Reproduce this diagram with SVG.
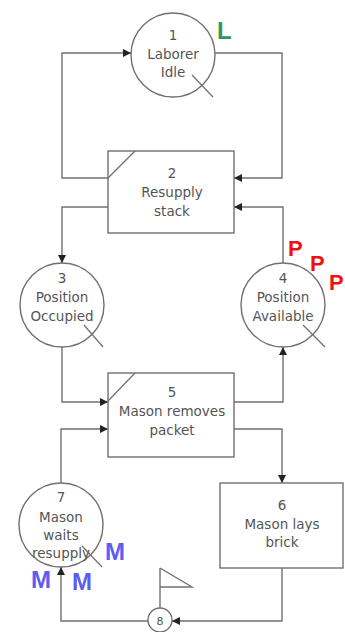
<svg xmlns="http://www.w3.org/2000/svg" width="345" height="632" viewBox="0 0 345 632">
  <style>
    .shape { fill: #ffffff; stroke: #707070; stroke-width: 1.4; }
    .wire { fill: none; stroke: #707070; stroke-width: 1.4; }
    .tick { fill: none; stroke: #707070; stroke-width: 1.2; }
    .lbl { font-family: "DejaVu Sans", sans-serif; font-size: 13.5px; fill: #555555; text-anchor: middle; }
    .tok { font-family: "Liberation Sans", Arial, sans-serif; font-weight: bold; }
    .p { fill: #ee1111; font-size: 22px; }
    .m { fill: #5b5cf0; font-size: 24px; }
    .l { fill: #2e9a5a; font-size: 24px; }
  </style>
  <defs>
    <marker id="arrow" viewBox="0 0 10 10" refX="10" refY="5" markerWidth="8" markerHeight="8" markerUnits="userSpaceOnUse" orient="auto">
      <path d="M0,0 L10,5 L0,10 z" fill="#222222"/>
    </marker>
  </defs>

  <g id="connectors">
    <!-- resupply stack back to laborer idle -->
    <path class="wire" d="M108,178 H62 V53 H131" marker-end="url(#arrow)"/>
    <!-- laborer idle into resupply stack -->
    <path class="wire" d="M215,53 H282 V178 H234" marker-end="url(#arrow)"/>
    <!-- resupply stack to position occupied -->
    <path class="wire" d="M108,207 H62 V263" marker-end="url(#arrow)"/>
    <!-- position available into resupply stack -->
    <path class="wire" d="M283,263 V207 H234" marker-end="url(#arrow)"/>
    <!-- position occupied into mason removes packet -->
    <path class="wire" d="M62,347 V402 H108" marker-end="url(#arrow)"/>
    <!-- mason removes packet to position available -->
    <path class="wire" d="M234,402 H283 V347" marker-end="url(#arrow)"/>
    <!-- mason waits into mason removes packet -->
    <path class="wire" d="M61,483 V429 H108" marker-end="url(#arrow)"/>
    <!-- mason removes packet to mason lays brick -->
    <path class="wire" d="M234,429 H282 V483" marker-end="url(#arrow)"/>
    <!-- mason lays brick to delay 8 -->
    <path class="wire" d="M282,568 V621 H172" marker-end="url(#arrow)"/>
    <!-- delay 8 to mason waits -->
    <path class="wire" d="M148,621 H61 V567" marker-end="url(#arrow)"/>
  </g>

  <g id="node1">
    <circle class="shape" cx="173" cy="55" r="42"/>
    <line class="tick" x1="192" y1="75" x2="213" y2="97"/>
    <text class="lbl" x="173" y="40">1</text>
    <text class="lbl" x="173" y="59">Laborer</text>
    <text class="lbl" x="173" y="77">Idle</text>
  </g>

  <g id="node2">
    <rect class="shape" x="108" y="151" width="126" height="82"/>
    <line class="tick" x1="108" y1="178" x2="135" y2="151"/>
    <text class="lbl" x="172" y="178">2</text>
    <text class="lbl" x="172" y="197">Resupply</text>
    <text class="lbl" x="172" y="216">stack</text>
  </g>

  <g id="node3">
    <circle class="shape" cx="62" cy="305" r="42"/>
    <line class="tick" x1="84" y1="325" x2="103" y2="347"/>
    <text class="lbl" x="62" y="283">3</text>
    <text class="lbl" x="62" y="302">Position</text>
    <text class="lbl" x="62" y="321">Occupied</text>
  </g>

  <g id="node4">
    <circle class="shape" cx="283" cy="305" r="42"/>
    <line class="tick" x1="303" y1="325" x2="325" y2="347"/>
    <text class="lbl" x="283" y="283">4</text>
    <text class="lbl" x="283" y="302">Position</text>
    <text class="lbl" x="283" y="321">Available</text>
  </g>

  <g id="node5">
    <rect class="shape" x="108" y="373" width="126" height="84"/>
    <line class="tick" x1="108" y1="401" x2="135" y2="373"/>
    <text class="lbl" x="172" y="397">5</text>
    <text class="lbl" x="172" y="416">Mason removes</text>
    <text class="lbl" x="172" y="435">packet</text>
  </g>

  <g id="node6">
    <rect class="shape" x="220" y="483" width="123" height="85"/>
    <text class="lbl" x="282" y="510">6</text>
    <text class="lbl" x="282" y="529">Mason lays</text>
    <text class="lbl" x="282" y="547">brick</text>
  </g>

  <g id="node7">
    <circle class="shape" cx="61" cy="525" r="42"/>
    <line class="tick" x1="82" y1="546" x2="102" y2="567"/>
    <text class="lbl" x="61" y="502">7</text>
    <text class="lbl" x="61" y="522">Mason</text>
    <text class="lbl" x="61" y="540">waits</text>
    <text class="lbl" x="61" y="558">resupply</text>
  </g>

  <g id="node8">
    <line class="wire" x1="160" y1="608" x2="160" y2="568"/>
    <path class="wire" d="M160,568 L192,587 H160"/>
    <circle class="shape" cx="160" cy="620" r="12"/>
    <text class="lbl" x="160" y="625" style="font-size:11px">8</text>
  </g>

  <g id="tokens">
    <text class="tok l" x="217" y="39">L</text>
    <text class="tok p" x="288" y="256">P</text>
    <text class="tok p" x="310" y="271">P</text>
    <text class="tok p" x="329" y="290">P</text>
    <text class="tok m" x="105" y="560">M</text>
    <text class="tok m" x="31" y="588">M</text>
    <text class="tok m" x="72" y="590">M</text>
  </g>
</svg>
